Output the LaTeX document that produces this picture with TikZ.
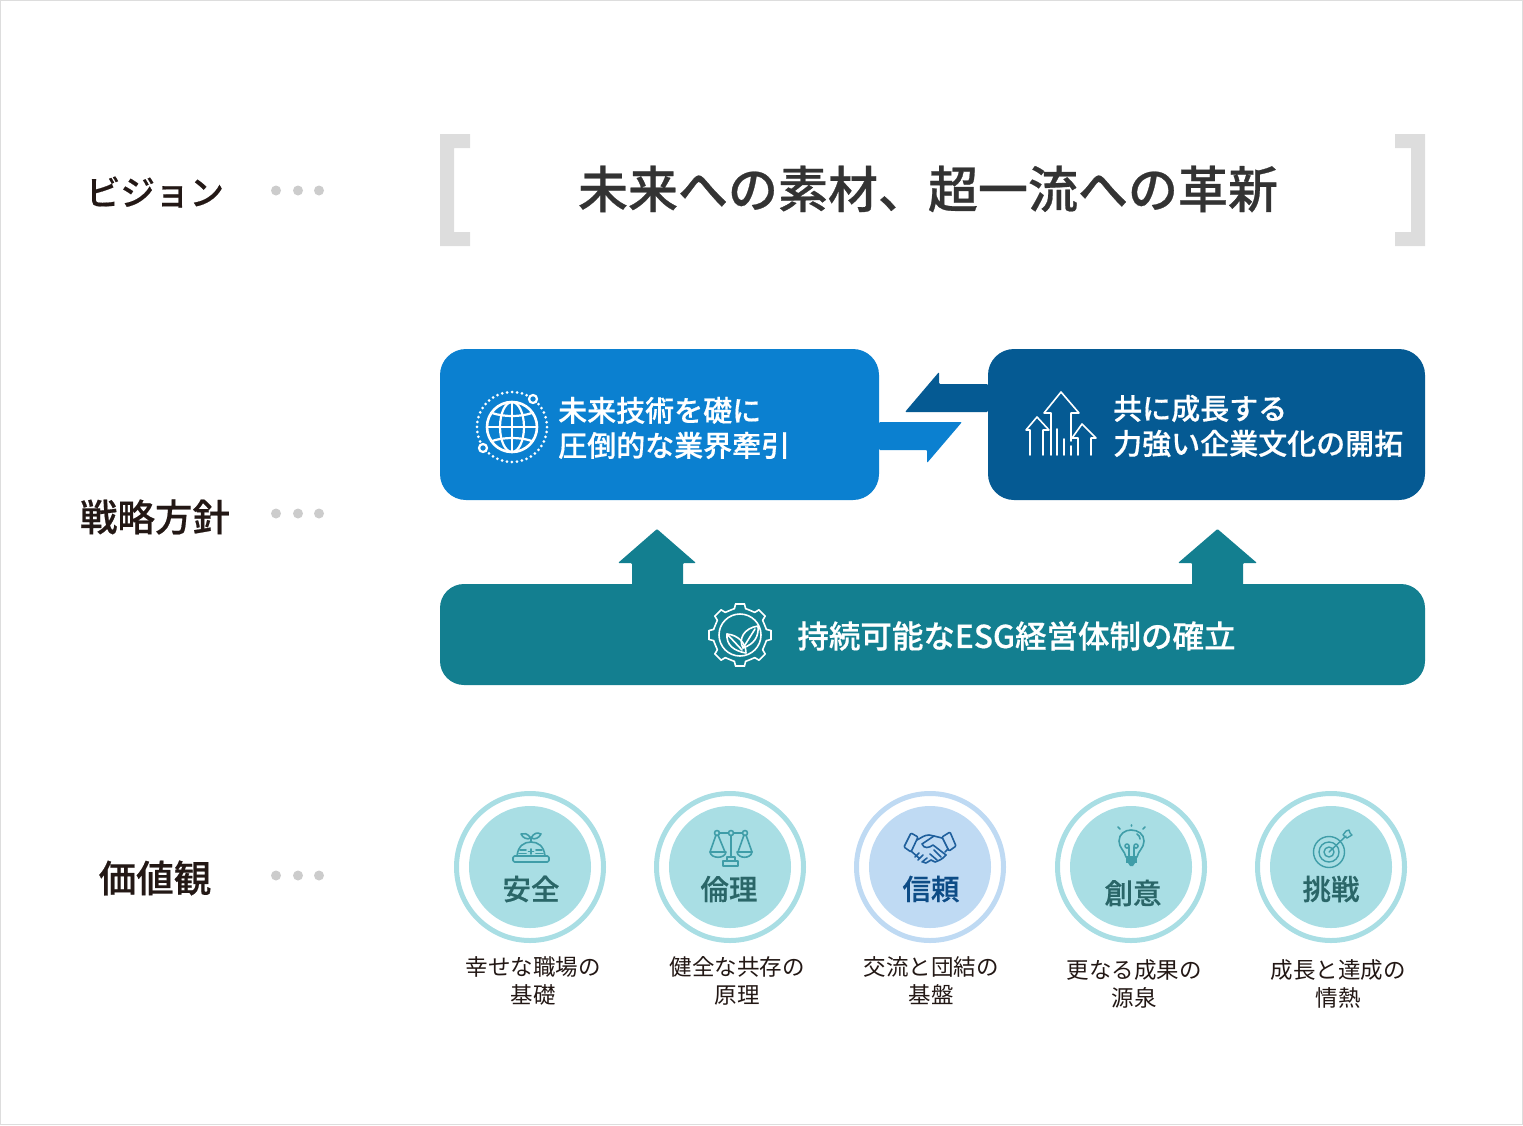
\documentclass[tikz,border=0pt]{standalone}
\usepackage{fontspec}
\setmainfont{Noto Sans CJK JP}
\newfontfamily\midfont[FakeBold=0.5]{Noto Sans CJK JP Medium}
\usetikzlibrary{positioning}

\definecolor{inkdark}{HTML}{231815}
\definecolor{inktitle}{HTML}{333333}
\definecolor{dotgray}{HTML}{CCCCCC}
\definecolor{brackgray}{HTML}{DDDDDD}
\definecolor{bluebox}{HTML}{0B80D0}
\definecolor{navybox}{HTML}{055A93}
\definecolor{tealbox}{HTML}{137F90}
\definecolor{aquaring}{HTML}{A9DEE4}
\definecolor{skyring}{HTML}{BFDAF3}
\definecolor{aquatext}{HTML}{2A6668}
\definecolor{skytext}{HTML}{0D4C86}
\definecolor{aquaicon}{HTML}{3F9DA8}
\definecolor{skyicon}{HTML}{1F5F9C}

\tikzset{
  rowlabel/.style={inner sep=0pt, text=inkdark, font={\fontsize{37.5}{40}\selectfont\midfont}},
  rowdot/.style={circle, fill=dotgray, minimum size=10pt, inner sep=0pt},
  roundbox/.style={rounded corners=26pt, minimum height=151pt, inner sep=0pt},
  boxtext/.style={anchor=west, inner sep=0pt, align=left, text=white, font={\fontsize{29}{35}\selectfont\midfont}},
  corecircle/.style={circle, minimum size=122pt, inner sep=0pt},
  ringcircle/.style={circle, draw, line width=5pt, minimum size=147pt, inner sep=0pt},
  valuename/.style={inner sep=0pt, font={\fontsize{28.5}{30}\selectfont\midfont}},
  valuenote/.style={inner sep=0pt, align=center, text=inkdark, font={\fontsize{22.5}{28}\selectfont}},
  iconline/.style={line width=1.6pt, line join=round, line cap=round},
}

\begin{document}
\begin{tikzpicture}[x=1pt, y=-1pt]
  \useasboundingbox (0,0) rectangle (1523,1125);
  \draw[brackgray, line width=1.5pt] (0.7,0.7) rectangle (1522.3,1124.3);

  % row labels
  \node[rowlabel, font={\fontsize{34.5}{40}\selectfont\midfont}] (vision) at (155,192) {ビジョン};
  \node[rowlabel] (policy) at (155,517) {戦略方針};
  \node[rowlabel] (values) at (155,878) {価値観};
  \foreach \rowy in {190.5,513.5,875.5} {
    \node[rowdot] at (276,\rowy) {};
    \node[rowdot] at (298,\rowy) {};
    \node[rowdot] at (319,\rowy) {};
  }

  % vision
  \fill[brackgray] (440,134) -- (470,134) -- (470,148) -- (454,148) -- (454,232) -- (470,232) -- (470,246) -- (440,246) -- cycle;
  \fill[brackgray] (1425,134) -- (1395,134) -- (1395,148) -- (1411,148) -- (1411,232) -- (1395,232) -- (1395,246) -- (1425,246) -- cycle;
  \node[inner sep=0pt, text=inktitle, font={\fontsize{50}{60}\selectfont\midfont}] (visiontext) at (928,189) {未来への素材、超一流への革新};

  % policy boxes
  \node[roundbox, fill=bluebox, minimum width=439pt] (techbox) at (659.5,424.5) {};
  \node[roundbox, fill=navybox, minimum width=437pt] (growbox) at (1206.5,424.5) {};
  \fill[bluebox, rounded corners=1pt] (techbox.east |- 0,422) -- (962,422) -- (927,463) -- (927,450) -- (techbox.east |- 0,450) -- cycle;
  \fill[navybox, rounded corners=1pt] (growbox.west |- 0,384) -- (939,384) -- (939,372) -- (905,412) -- (growbox.west |- 0,412) -- cycle;
  \node[boxtext] (techtext) at (558,428) {未来技術を礎に\\圧倒的な業界牽引};
  \node[boxtext] (growtext) at (1113,426) {共に成長する\\力強い企業文化の開拓};

  % globe
  \begin{scope}[shift={(512,427)}, white]
    \draw[line width=2.6pt] (0,0) circle [radius=25];
    \draw[line width=2.2pt] (0,0) ellipse [x radius=12, y radius=25];
    \draw[line width=2.2pt] (0,-25) -- (0,25) (-25,0) -- (25,0);
    \draw[line width=2.2pt] (-20,-14) .. controls (-8,-10) and (8,-10) .. (20,-14);
    \draw[line width=2.2pt] (-20,14) .. controls (-8,10) and (8,10) .. (20,14);
    \draw[line width=3pt, line cap=round, dash pattern=on 0pt off 5pt] (0,0) circle [radius=35];
    \draw[line width=2.2pt, fill=bluebox] (21,-28) circle [radius=4];
    \draw[line width=2.2pt, fill=bluebox] (-29,21) circle [radius=4];
  \end{scope}

  % rising arrows
  \begin{scope}[white, iconline]
    \draw (1051,455) -- (1051,413) -- (1044,413) -- (1061,392) -- (1079,413) -- (1071,413) -- (1071,441);
    \draw (1030,455) -- (1030,430) -- (1026,430) -- (1037,417) -- (1049,430) -- (1043,430) -- (1043,455);
    \draw (1078,455) -- (1078,438) -- (1072,438) -- (1082,424) -- (1096,438) -- (1091,438) -- (1091,455);
    \draw (1057,429) -- (1057,455) (1064,439) -- (1064,455) (1071,446) -- (1071,455);
  \end{scope}

  % base box and arrows
  \fill[tealbox, rounded corners=1pt] (632,590) -- (632,563) -- (618,563) -- (657,529) -- (696,563) -- (683,563) -- (683,590) -- cycle;
  \fill[tealbox, rounded corners=1pt] (1192,590) -- (1192,563) -- (1178,563) -- (1217.5,529) -- (1257,563) -- (1243,563) -- (1243,590) -- cycle;
  \node[rounded corners=24pt, fill=tealbox, minimum width=985pt, minimum height=101pt, inner sep=0pt] (basebox) at (932.5,634.5) {};
  \node[inner sep=0pt, text=white, font={\fontsize{31.5}{35}\selectfont\midfont}] (basetext) at (1016.5,636) {持続可能なESG経営体制の確立};

  % gear with leaves
  \begin{scope}[shift={(740,635)}, white, iconline]
    \foreach \a in {0,45,...,315} {
      \draw ({\a-8}:31.5) -- ({\a+8}:31.5);
      \draw ({\a-8}:31.5) -- ({\a-12}:27);
      \draw ({\a+8}:31.5) -- ({\a+12}:27);
      \draw ({\a+12}:27) -- ({\a+22.5}:26.6) -- ({\a+33}:27);
    }
    \draw (0,0) circle [radius=21];
    \draw (-13,-1) .. controls (-14,10) and (-6,16) .. (6,18) .. controls (6,8) and (-2,0) .. (-13,-1) -- cycle;
    \draw (-13,-1) -- (2,15);
    \draw (18,-9) .. controls (4,-7) and (-2,4) .. (3,13) .. controls (14,9) and (19,2) .. (18,-9) -- cycle;
    \draw (15,-6) -- (3,13);
  \end{scope}

  % value circles
  \foreach \cx/\ringcol/\textcol/\tx/\ty/\tname/\nx/\ny/\first/\second in {
    530/aquaring/aquatext/531/889/安全/533/981/幸せな職場の/基礎,
    730/aquaring/aquatext/729/889/倫理/737/981/健全な共存の/原理,
    930/skyring/skytext/931/889/信頼/931/981/交流と団結の/基盤,
    1131/aquaring/aquatext/1133/893/創意/1134/984/更なる成果の/源泉,
    1331/aquaring/aquatext/1331/889/挑戦/1338/984/成長と達成の/情熱} {
    \node[ringcircle, draw=\ringcol] (ring\cx) at (\cx,867) {};
    \node[corecircle, fill=\ringcol] (core\cx) at (\cx,867) {};
    \node[valuename, text=\textcol] (name\cx) at (\tx,\ty) {\tname};
    \node[valuenote] (note\cx) at (\nx,\ny) {\first\\\second};
  }

  % helmet
  \begin{scope}[aquaicon, iconline]
    \draw (517,856) .. controls (518,846) and (524,842) .. (531,842) .. controls (538,842) and (544,846) .. (545,856);
    \draw[rounded corners=1.5pt] (513,856) rectangle (549,862);
    \draw (531,842) -- (531,838);
    \draw (531,838) .. controls (527,833) and (524,833) .. (521,834) .. controls (523,838) and (527,840) .. (531,838);
    \draw (531,838) .. controls (534,833) and (537,832) .. (541,834) .. controls (539,838) and (535,840) .. (531,838);
    \draw (531,849) -- (531,854) (528.5,851.5) -- (533.5,851.5);
    \draw (520,850) -- (526,850) (519,853.5) -- (526,853.5) (536,850) -- (542,850) (536,853.5) -- (543,853.5);
  \end{scope}

  % scales
  \begin{scope}[aquaicon, iconline]
    \draw (731,836) -- (731,857) (719,833) -- (728,833) (734,833) -- (742,833);
    \draw (717,833) circle [radius=2.5] (731,833) circle [radius=2.5] (745,833) circle [radius=2.5];
    \draw (716,835) -- (710,852) (718,835) -- (725,852);
    \draw (744,835) -- (738,852) (746,835) -- (752,852);
    \draw (710,852) -- (726,852) .. controls (725,859) and (711,859) .. (710,852) -- cycle;
    \draw (737,852) -- (752,852) .. controls (751,859) and (738,859) .. (737,852) -- cycle;
    \draw (727,857) rectangle (735,861);
    \draw (723,861) rectangle (738,866);
  \end{scope}

  % handshake
  \begin{scope}[skyicon, iconline]
    \draw[rounded corners=1pt] (904,847) -- (911,833) -- (918,837) -- (911,852) -- cycle;
    \draw[rounded corners=1pt] (942,837) -- (950,832) -- (956,846) -- (949,851) -- cycle;
    \draw (917,840) .. controls (921,838) and (924,835) .. (929,835) -- (934,836) -- (942,838);
    \draw (934,836) -- (922,844) .. controls (924,849) and (929,848) .. (933,845) -- (946,855);
    \draw (948,849) -- (945,852);
    \draw (911,851) -- (919,858) (919,853) -- (915,857) (923,855) -- (918,860) (927,858) -- (922,862) (931,860) -- (926,863) -- (923,862);
    \draw (931,860) -- (935,862) .. controls (938,861) and (943,859) .. (946,855);
    \draw (934,850) -- (941,857) (930,854) -- (937,860);
  \end{scope}

  % bulb
  \begin{scope}[aquaicon, iconline]
    \draw (1126,857) .. controls (1125,851) and (1119,848) .. (1119,841) .. controls (1119,834) and (1125,830) .. (1131,830) .. controls (1138,830) and (1144,834) .. (1144,841) .. controls (1144,848) and (1138,851) .. (1137,857) -- cycle;
    \draw (1129,857) -- (1129,847) (1134,857) -- (1134,847);
    \draw (1127,846) circle [radius=2] (1136,846) circle [radius=2];
    \fill (1126,857) rectangle (1137,863);
    \fill (1128,863) -- (1135,863) -- (1133,866) -- (1130,866) -- cycle;
    \draw (1131.5,826) -- (1131.5,825) (1120,829) -- (1118,827) (1143,829) -- (1145,827);
    \draw (1137,834) .. controls (1139,835) and (1140,837) .. (1140,839);
  \end{scope}

  % target
  \begin{scope}[aquaicon, iconline, line width=1.4pt]
    \draw (1329,852) circle [radius=15.5];
    \draw (1329,852) circle [radius=10];
    \draw (1329,852) circle [radius=5];
    \draw (1329,852) -- (1346,836);
    \draw (1343,835) -- (1346,831) -- (1349,830) -- (1350,833) -- (1352,835) -- (1347,838) -- cycle;
  \end{scope}
\end{tikzpicture}
\end{document}
